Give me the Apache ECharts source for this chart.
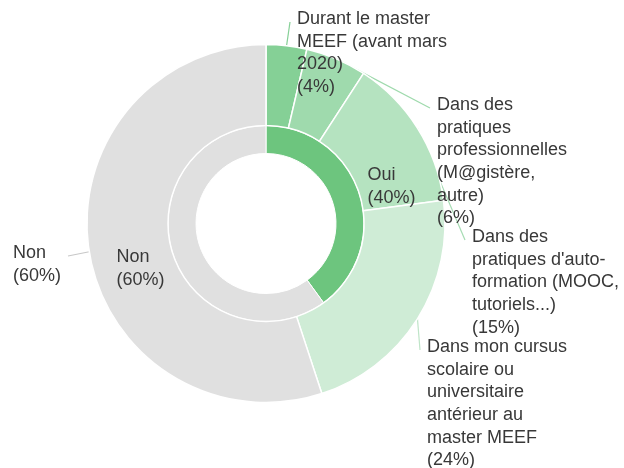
<!DOCTYPE html>
<html>
<head>
<meta charset="utf-8">
<script src="https://cdn.jsdelivr.net/npm/echarts@6/dist/echarts.min.js"></script>
<style>
  html, body { margin: 0; padding: 0; background: #fff; }
  #chart { width: 624px; height: 468px; }
</style>
</head>
<body>
<div id="chart"></div>
<script>
// inner ring
const innerNames = ['Oui', 'Non']
const innerValues = [40, 60]

// outer ring (multi-answer, percentages of respondents)
const outerNames = [
  'Durant le master\nMEEF (avant mars\n2020)',
  'Dans des\npratiques\nprofessionnelles\n(M@gistère,\nautre)',
  "Dans des\npratiques d'auto-\nformation (MOOC,\ntutoriels...)",
  'Dans mon cursus\nscolaire ou\nuniversitaire\nantérieur au\nmaster MEEF',
  'Non'
]
const outerValues = [4, 6, 15, 24, 60]

const innerColors = ['#6dc57e', '#e0e0e0']
const outerColors = ['#85d096', '#9fdaad', '#b5e3c0', '#cfecd6', '#e0e0e0']
const lineColors = ['#85d096', '#9fdaad', '#a6dcb3', '#bfe5c8', '#c8c8c8']

// where each outer label line ends
const outerAnchors = [[290, 22], [430, 108], [465, 240], [420, 350], [68, 256]]

const CX = 266
const CY = 223.5
const FONT = '"Liberation Sans", Arial, sans-serif'

function polar(values, idx, r) {
  const total = values.reduce((a, b) => a + b, 0)
  let cum = 0
  for (let i = 0; i < idx; i++) cum += values[i]
  const ang = (cum + values[idx] / 2) / total * Math.PI * 2
  return [CX + r * Math.sin(ang), CY - r * Math.cos(ang)]
}

const labelText = {
  color: '#383838',
  fontFamily: FONT,
  fontSize: 18,
  lineHeight: 22.6,
  formatter: '{b}\n({c}%)'
}

const chart = echarts.init(document.getElementById('chart'))
chart.setOption({
  animation: false,
  series: [
    {
      type: 'pie',
      center: [CX, CY],
      radius: [70, 98],
      startAngle: 90,
      avoidLabelOverlap: false,
      itemStyle: { borderColor: '#fff', borderWidth: 1 },
      label: { show: true, position: 'inside', ...labelText },
      labelLine: { show: false },
      labelLayout: function(p) {
        const c = polar(innerValues, p.dataIndex, 132)
        return {
          x: c[0] - p.labelRect.width / 2,
          y: c[1] - p.labelRect.height / 2 + 4,
          align: 'left',
          verticalAlign: 'top'
        }
      },
      data: innerNames.map((n, i) => ({
        name: n,
        value: innerValues[i],
        itemStyle: { color: innerColors[i] }
      }))
    },
    {
      type: 'pie',
      center: [CX, CY],
      radius: [98, 179],
      startAngle: 90,
      avoidLabelOverlap: false,
      itemStyle: { borderColor: '#fff', borderWidth: 1.5 },
      label: { show: true, position: 'outside', ...labelText },
      labelLine: { show: true, lineStyle: { width: 1.2 } },
      labelLayout: function(p) {
        const i = p.dataIndex
        const a = outerAnchors[i]
        const s = polar(outerValues, i, 179)
        const right = a[0] > CX
        return {
          x: right ? a[0] + 7 : a[0] - 7 - p.labelRect.width,
          y: a[1] - 14,
          align: 'left',
          verticalAlign: 'top',
          labelLinePoints: [s, a, a]
        }
      },
      data: outerNames.map((n, i) => ({
        name: n,
        value: outerValues[i],
        itemStyle: { color: outerColors[i] },
        labelLine: { lineStyle: { color: lineColors[i] } }
      }))
    }
  ]
})
</script>
</body>
</html>
